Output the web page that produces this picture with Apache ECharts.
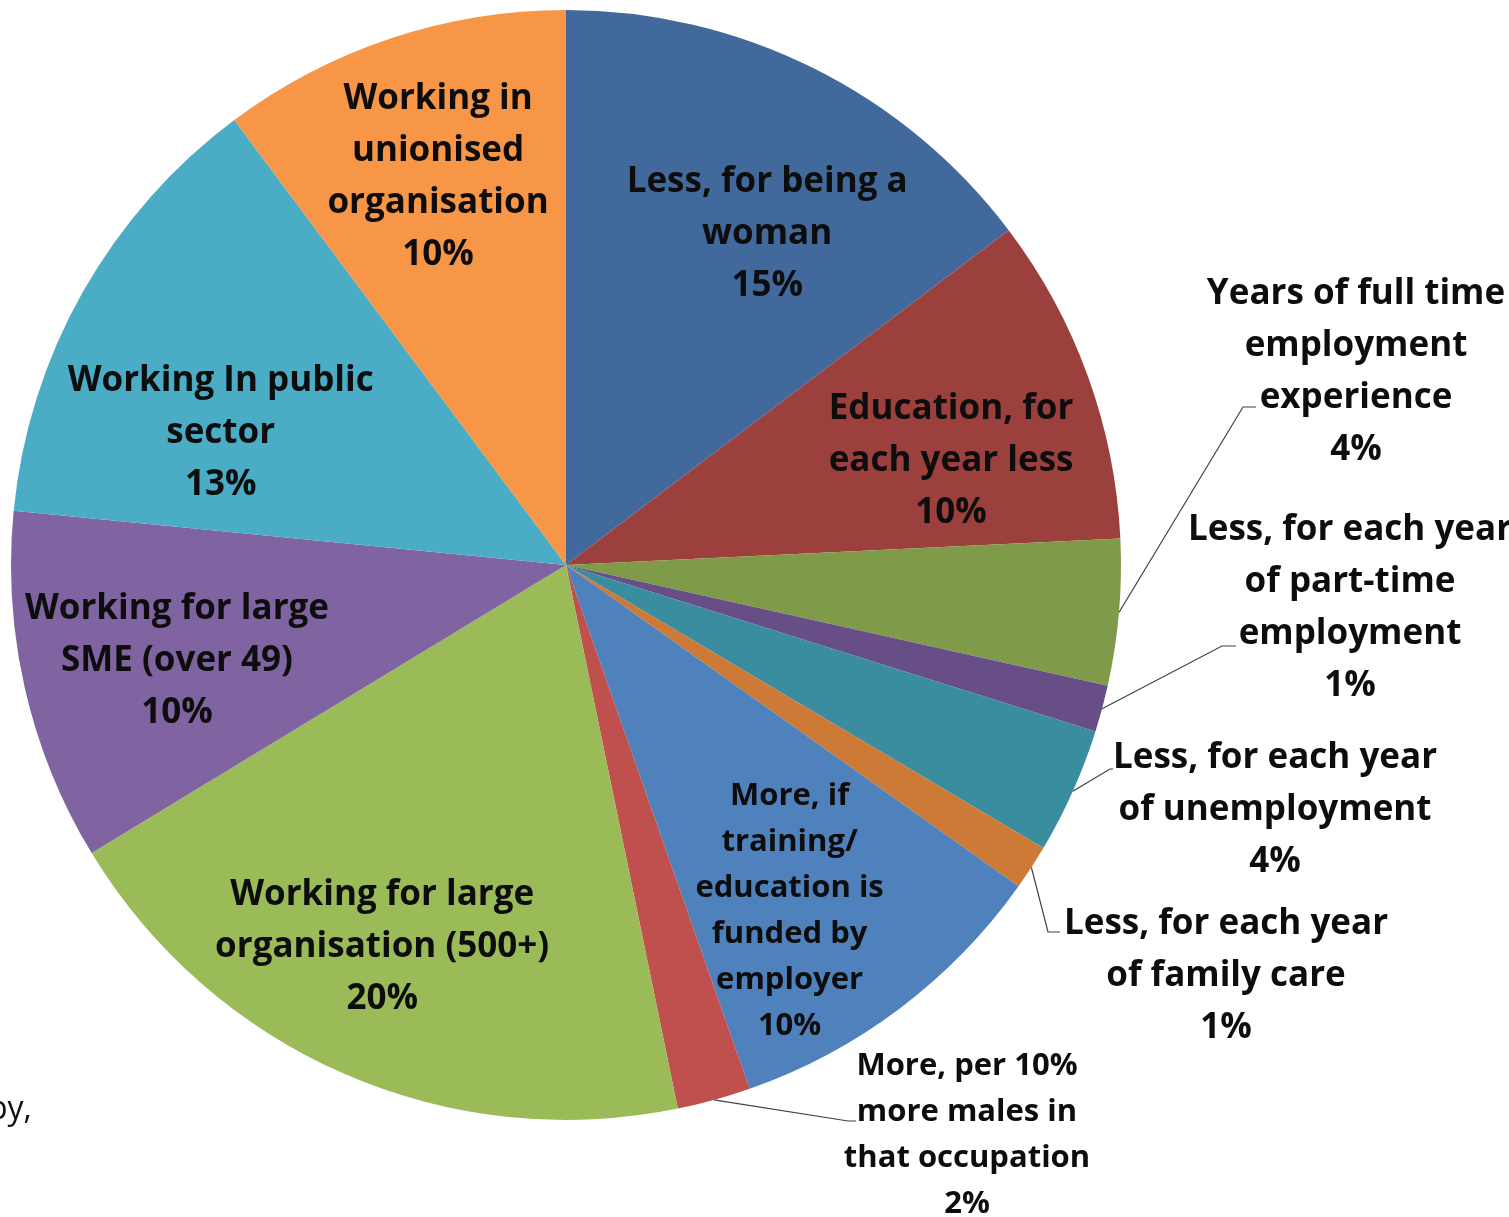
<!DOCTYPE html>
<html>
<head>
<meta charset="utf-8">
<script src="https://cdn.jsdelivr.net/npm/echarts@6/dist/echarts.min.js"></script>
<style>
html,body{margin:0;padding:0;background:#ffffff;overflow:hidden}
#chart{width:1509px;height:1217px}
</style>
</head>
<body>
<div id="chart"></div>
<script>
// ---- data ----
const categories = [
  'Less, for being a\nwoman',
  'Education, for\neach year less',
  'Years of full time\nemployment\nexperience',
  'Less, for each year\nof part-time\nemployment',
  'Less, for each year\nof unemployment',
  'Less, for each year\nof family care',
  'More, if\ntraining/\neducation is\nfunded by\nemployer',
  'More, per 10%\nmore males in\nthat occupation',
  'Working for large\norganisation (500+)',
  'Working for large\nSME (over 49)',
  'Working In public\nsector',
  'Working in\nunionised\norganisation'
];
const values = [14.7, 9.55, 4.25, 1.36, 3.67, 1.31, 9.81, 2.14, 19.55, 10.25, 13.25, 10.2];

// ---- styles / layout ----
const colors = ['#41699B', '#9C403E', '#7F9B49', '#674E86', '#3A8C9F', '#CC7A35',
                '#4F81BD', '#C0504D', '#9BBB59', '#8064A2', '#4BACC6', '#F79646'];
const CX = 566, CY = 565, R = 555;
const innerRho = 400;
const textDrop = 4;
const innerShift = {0: [23, 23], 1: [9, 28], 6: [-17, 23], 8: [-24, 11], 9: [1, 3], 10: [3, 61], 11: [-2, -12]};
const outerPlace = {
  2: {c: [1356, 368], bend: [1243, 407], end: [1256, 407]},
  3: {c: [1350, 604], bend: [1222, 646], end: [1236, 646]},
  4: {c: [1275, 806], bend: [1110, 769], end: [1113, 769]},
  5: {c: [1226, 972], bend: [1048, 932], end: [1060, 932]},
  7: {c: [967, 1131], bend: [848, 1121], end: [856, 1121]}
};
const smallText = {6: true, 7: true};

const total = values.reduce((a, b) => a + b, 0);
function midAngle(i) {
  let s = 0;
  for (let k = 0; k < i; k++) s += values[k];
  s += values[i] / 2;
  return s / total * Math.PI * 2;
}

const data = values.map((v, i) => {
  const outer = !!outerPlace[i];
  return {
    name: categories[i],
    value: v,
    itemStyle: {color: colors[i]},
    label: {
      position: outer ? 'outside' : 'inside',
      fontSize: smallText[i] ? 31 : 35,
      lineHeight: smallText[i] ? 46 : 52
    },
    labelLine: {show: outer}
  };
});

const chart = echarts.init(document.getElementById('chart'), null, {renderer: 'canvas'});
chart.setOption({
  backgroundColor: '#ffffff',
  animation: false,
  graphic: [{
    type: 'text',
    x: -12,
    y: 1110,
    style: {text: 'by,', fontFamily: 'Open Sans', fontSize: 32, fill: '#111111', verticalAlign: 'middle'}
  }],
  series: [{
    type: 'pie',
    center: [CX, CY],
    radius: R,
    startAngle: 90,
    clockwise: true,
    avoidLabelOverlap: false,
    silent: true,
    data: data,
    itemStyle: {borderWidth: 0},
    label: {
      show: true,
      color: '#0d0d0d',
      fontFamily: 'Open Sans',
      fontWeight: 'bold',
      align: 'center',
      formatter: p => p.name + '\n' + Math.round(p.percent) + '%'
    },
    labelLine: {
      length: 20,
      length2: 10,
      smooth: false,
      lineStyle: {color: '#404040', width: 1.2}
    },
    labelLayout: function (params) {
      const i = params.dataIndex;
      const th = midAngle(i);
      if (outerPlace[i]) {
        const p = outerPlace[i];
        const ax = CX + R * Math.sin(th);
        const ay = CY - R * Math.cos(th);
        return {
          x: p.c[0], y: p.c[1] + textDrop, align: 'center', verticalAlign: 'middle',
          labelLinePoints: [[ax, ay], p.bend, p.end]
        };
      }
      const s = innerShift[i] || [0, 0];
      return {
        x: CX + innerRho * Math.sin(th) + s[0],
        y: CY - innerRho * Math.cos(th) + s[1] + textDrop,
        align: 'center', verticalAlign: 'middle'
      };
    }
  }]
});
</script>
</body>
</html>
